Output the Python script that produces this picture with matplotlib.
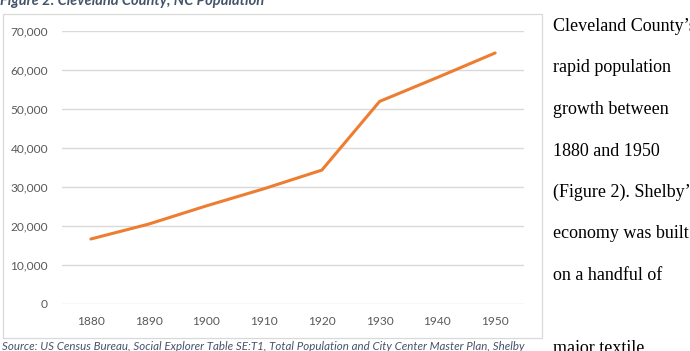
import matplotlib.pyplot as plt
from matplotlib.patches import Rectangle
from matplotlib.ticker import FuncFormatter

# Cleveland County, NC population by census year
years = ['1880', '1890', '1900', '1910', '1920', '1930', '1940', '1950']
population = [16571, 20394, 25078, 29494, 34272, 51914, 58055, 64357]
y_ticks = [0, 10000, 20000, 30000, 40000, 50000, 60000, 70000]

side_lines = ['Cleveland County\u2019s', 'rapid population', 'growth between',
              '1880 and 1950', '(Figure 2). Shelby\u2019s', 'economy was built',
              'on a handful of']
source_text = ('Source: US Census Bureau, Social Explorer Table SE:T1, Total Population '
               'and City Center Master Plan, Shelby')

W, H = 690, 351
fig = plt.figure(figsize=(W / 100, H / 100), dpi=100)
fig.patch.set_facecolor('white')

# chart frame
fig.add_artist(Rectangle((2.5 / W, 1 - 338 / H), 539 / W, 324 / H,
                         transform=fig.transFigure, fill=False,
                         edgecolor='#d9d9d9', linewidth=0.9))

ax = fig.add_axes([62 / W, 1 - 303.5 / H, 462 / W, 272.5 / H])
x = list(range(len(years)))
ax.plot(x, population, color='#ed7d31', linewidth=2.2, solid_capstyle='round', zorder=3)
ax.set_xlim(-0.5, len(years) - 0.5)
ax.set_ylim(0, 70000)
ax.set_xticks(x)
ax.set_xticklabels(years)
ax.set_yticks(y_ticks)
ax.yaxis.set_major_formatter(FuncFormatter(lambda v, p: f'{int(v):,}'))
for s in ax.spines.values():
    s.set_visible(False)
ax.grid(axis='y', color='#d9d9d9', linewidth=1.0)
ax.set_axisbelow(True)
ax.tick_params(axis='both', length=0, labelsize=8.6, colors='#595959')
ax.tick_params(axis='y', pad=10)
ax.tick_params(axis='x', pad=9)
for lab in ax.get_xticklabels() + ax.get_yticklabels():
    lab.set_fontfamily('Lato')

# caption above and source below
fig.text(0, 1 - 5 / H, 'Figure 2: Cleveland County, NC Population', fontsize=10.5,
         fontstyle='italic', fontweight='bold', color='#44546a', family='Lato',
         ha='left', va='baseline')
fig.text(2 / W, 1 - 350 / H, source_text, fontsize=8.3, fontstyle='italic',
         color='#44546a', family='Lato', ha='left', va='baseline')

# body text on the right
for i, line in enumerate(side_lines):
    fig.text(553 / W, 1 - (31 + 41.5 * i) / H, line, fontsize=13,
             family='Liberation Serif', color='black', ha='left', va='baseline')
fig.text(553 / W, 1 - 353 / H, 'major textile', fontsize=13,
         family='Liberation Serif', color='black', ha='left', va='baseline')

fig.savefig('out.png', dpi=100)
